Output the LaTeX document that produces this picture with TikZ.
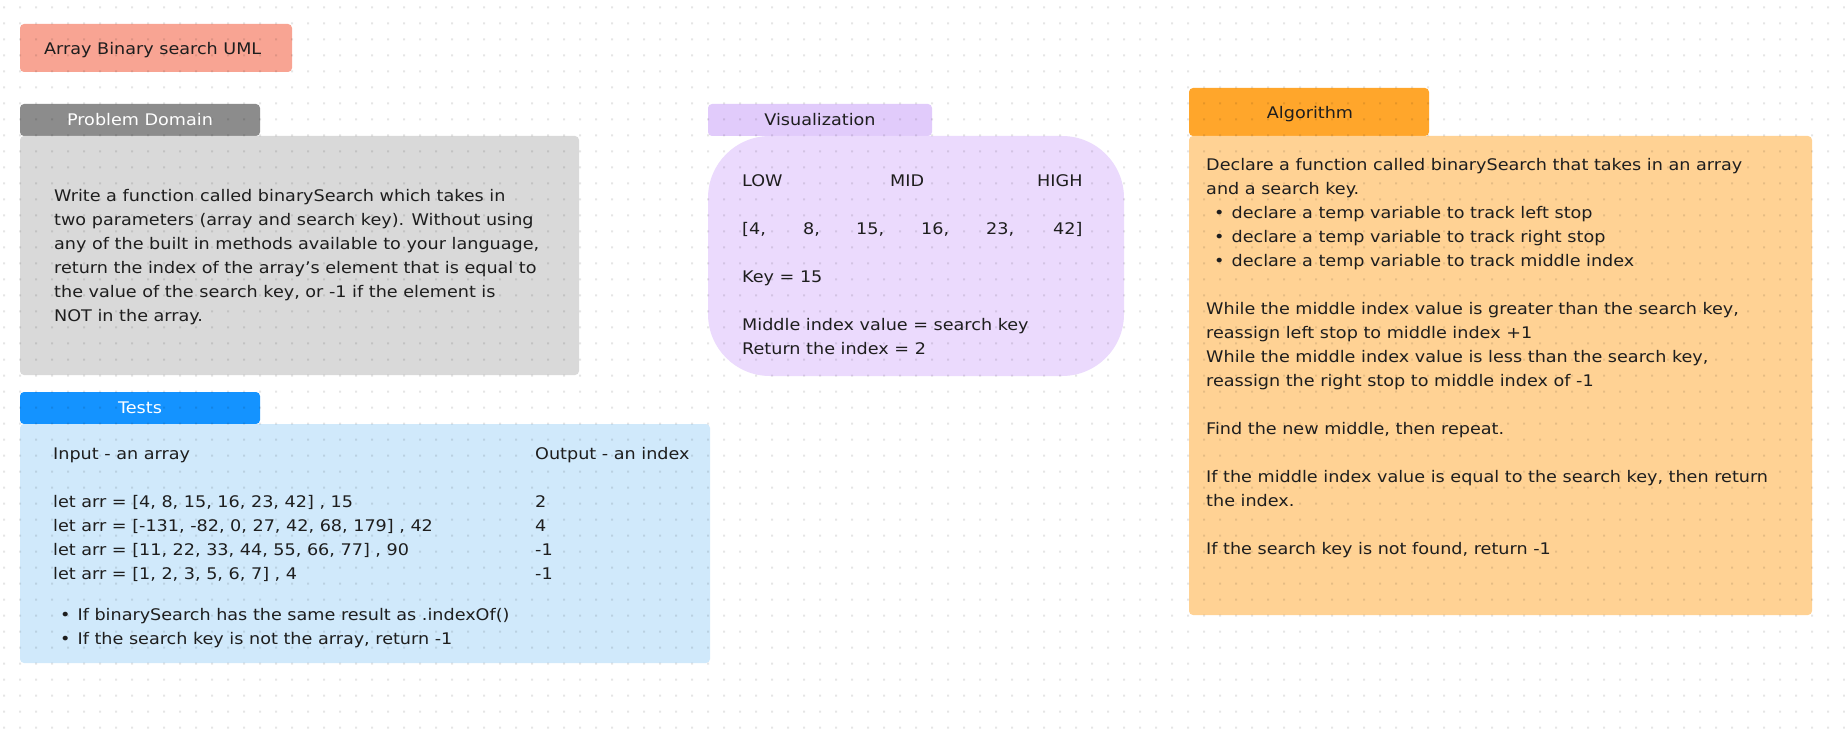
\documentclass[tikz,border=0pt]{standalone}
\usepackage{fontspec}
\setmainfont{DejaVu Sans}[FakeStretch=1.1]
\definecolor{ink}{HTML}{1E1E1E}
\definecolor{titlec}{HTML}{F8A493}
\definecolor{pdhead}{HTML}{8C8C8C}
\definecolor{pdbody}{HTML}{D9D9D9}
\definecolor{vishead}{HTML}{E1CBFB}
\definecolor{visbody}{HTML}{EBDAFD}
\definecolor{testhead}{HTML}{1493FF}
\definecolor{testbody}{HTML}{D0E9FB}
\definecolor{alghead}{HTML}{FFA62B}
\definecolor{algbody}{HTML}{FFD294}
\tikzset{
  card/.style={rounded corners=4pt},
  txt/.style={inner sep=0pt, text=ink, font=\fontsize{16}{24}\selectfont},
  blocktxt/.style={txt, anchor=north west, align=left},
  linetxt/.style={txt, anchor=mid west},
  headtxt/.style={txt, anchor=mid},
}
\begin{document}
\begin{tikzpicture}[x=1pt,y=-1pt]
\useasboundingbox[fill=white] (0,0) rectangle (1845,735);
% boxes
\fill[card,titlec] (20,24) rectangle (292,72);
\fill[card,pdhead] (20,104) rectangle (260,136);
\fill[card,pdbody] (20,136) rectangle (579,375);
\fill[card,vishead] (708,104) rectangle (932,136);
\fill[visbody,rounded corners=62pt] (708,136) rectangle (1124,376);
\fill[card,testhead] (20,392) rectangle (260,424);
\fill[card,testbody] (20,424) rectangle (710,663);
\fill[card,alghead] (1189,88) rectangle (1429,136);
\fill[card,algbody] (1189,136) rectangle (1812,615);
% dot grid
\foreach \y in {6.5,22.5,...,730}{
  \fill[black,opacity=0.1] \foreach \x in {3,19,...,1843}{(\x,\y) rectangle ++(2,2)};
}
% headers
\node[linetxt] (title) at (44,51.5) {Array Binary search UML};
\node[headtxt,text=white] (pdh) at (140,123) {Problem Domain};
\node[headtxt] (vish) at (820,123) {Visualization};
\node[headtxt,text=white] (testh) at (140,411) {Tests};
\node[headtxt] (algh) at (1310,116) {Algorithm};
% problem domain
\node[blocktxt] (pdtext) at (54,184.6) {\strut Write a function called binarySearch which takes in\\
two parameters (array and search key). Without using\\
any of the built in methods available to your language,\\
return the index of the array's element that is equal to\\
the value of the search key, or -1 if the element is\\
NOT in the array.};
% visualization
\node[linetxt] (low) at (742,184) {LOW};
\node[linetxt] (mid) at (890,184) {MID};
\node[linetxt] (high) at (1037,184) {HIGH};
\node[linetxt] (a1) at (742,232) {[4,};
\node[linetxt] (a2) at (803,232) {8,};
\node[linetxt] (a3) at (856,232) {15,};
\node[linetxt] (a4) at (921,232) {16,};
\node[linetxt] (a5) at (986,232) {23,};
\node[linetxt] (a6) at (1053,232) {42]};
\node[linetxt] (key) at (742,280) {Key = 15};
\node[blocktxt] (vres) at (742,313.6) {\strut Middle index value = search key\\Return the index = 2};
% tests
\node[linetxt] (inp) at (53,456.5) {Input - an array};
\node[linetxt] (outp) at (535,456.5) {Output - an index};
\node[blocktxt] (cases) at (53,490) {\strut let arr = [4, 8, 15, 16, 23, 42] , 15\\
let arr = [-131, -82, 0, 27, 42, 68, 179] , 42\\
let arr = [11, 22, 33, 44, 55, 66, 77] , 90\\
let arr = [1, 2, 3, 5, 6, 7] , 4};
\node[blocktxt] (outs) at (535,490) {\strut 2\\4\\-1\\-1};
\node[blocktxt] (tnotes) at (60,603) {\strut •\hspace{7pt}If binarySearch has the same result as .indexOf()\\
•\hspace{7pt}If the search key is not the array, return -1};
% algorithm
\node[blocktxt] (algtext) at (1206,153.6) {\strut Declare a function called binarySearch that takes in an array\\
and a search key.\\
\hspace*{8pt}•\hspace{7pt}declare a temp variable to track left stop\\
\hspace*{8pt}•\hspace{7pt}declare a temp variable to track right stop\\
\hspace*{8pt}•\hspace{7pt}declare a temp variable to track middle index\\
\strut\\
While the middle index value is greater than the search key,\\
reassign left stop to middle index +1\\
While the middle index value is less than the search key,\\
reassign the right stop to middle index of -1\\
\strut\\
Find the new middle, then repeat.\\
\strut\\
If the middle index value is equal to the search key, then return\\
the index.\\
\strut\\
If the search key is not found, return -1};
\end{tikzpicture}
\end{document}
